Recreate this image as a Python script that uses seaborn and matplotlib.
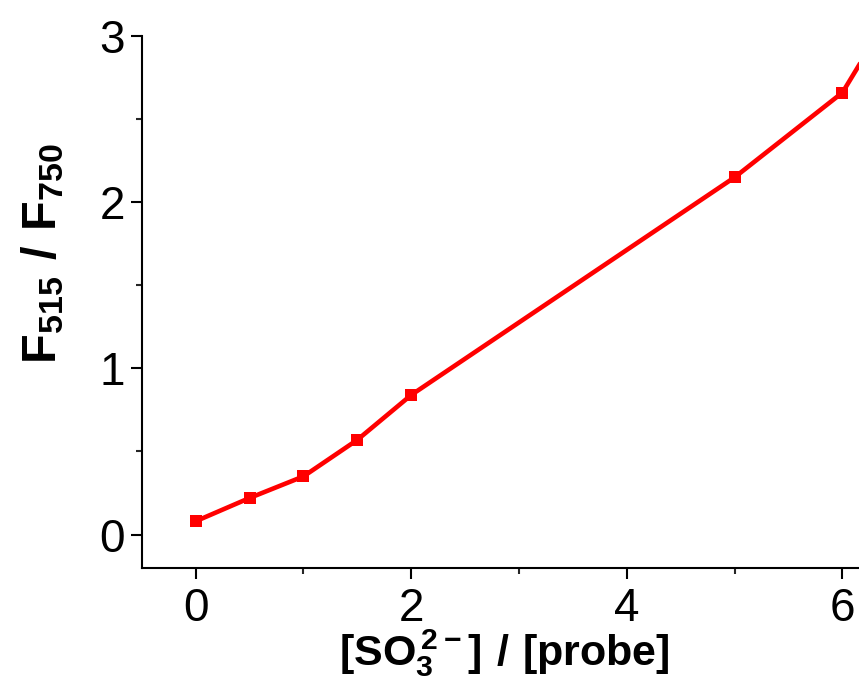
import matplotlib
matplotlib.use('Agg')
import matplotlib.pyplot as plt
from matplotlib.ticker import MultipleLocator
import seaborn as sns
import pandas as pd

# [SO3 2-]/[probe] ratio vs F515/F750 intensity ratio
ratio = [0, 0.5, 1, 1.5, 2, 5, 6, 7]
f_ratio = [0.08, 0.22, 0.35, 0.57, 0.84, 2.15, 2.66, 3.73]

df = pd.DataFrame({'ratio': ratio, 'f_ratio': f_ratio})

sns.set_style('ticks')
plt.rcParams['font.family'] = ['Liberation Sans', 'DejaVu Sans']
plt.rcParams['mathtext.fontset'] = 'custom'
plt.rcParams['mathtext.rm'] = 'Liberation Sans'
plt.rcParams['mathtext.bf'] = 'Liberation Sans:bold'
plt.rcParams['text.color'] = 'black'
plt.rcParams['axes.labelcolor'] = 'black'

fig = plt.figure(figsize=(8.59, 6.8), dpi=100)
# axes run past the right edge, like the cropped original
ax = fig.add_axes([0.165, 0.165, 1.004, 0.782])

sns.lineplot(data=df, x='ratio', y='f_ratio', ax=ax, color='#ff0000',
             linewidth=3.3, marker='s', markersize=9, markeredgewidth=0)

ax.set_xlim(-0.5, 7.5)
ax.set_ylim(-0.2, 3.0)
ax.xaxis.set_major_locator(MultipleLocator(2))
ax.xaxis.set_minor_locator(MultipleLocator(1))
ax.yaxis.set_major_locator(MultipleLocator(1))
ax.yaxis.set_minor_locator(MultipleLocator(0.5))

for side in ['left', 'bottom']:
    ax.spines[side].set_linewidth(1.5)
    ax.spines[side].set_color('black')
sns.despine(ax=ax)

ax.tick_params(which='major', direction='out', length=8, width=1.5,
               labelsize=33, colors='black', pad=4)
ax.tick_params(which='minor', direction='out', length=4.5, width=1.5)
ax.tick_params(axis='x', which='major', pad=6)

ax.set_ylabel(r'$\mathbf{F_{515}\ /\ F_{750}}$', fontsize=35)
ax.yaxis.set_label_coords(-0.088, 0.59)
ax.set_xlabel(r'$\mathbf{[SO_3^{\,2-}]\ /\ [probe]}$', fontsize=31)
ax.xaxis.set_label_coords(0.42, -0.112)

fig.savefig('out.png', dpi=100)
